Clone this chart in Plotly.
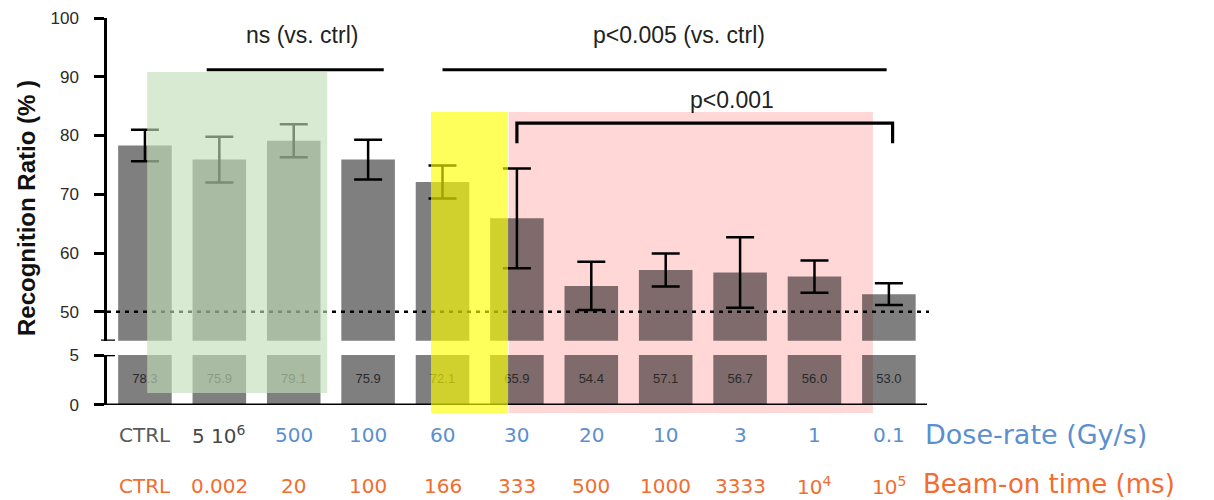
import plotly.graph_objects as go

# ---------------- data ----------------
dose_rate_labels = ["CTRL", "5 10<sup>6</sup>", "500", "100", "60", "30", "20", "10", "3", "1", "0.1"]
beam_on_labels = ["CTRL", "0.002", "20", "100", "166", "333", "500", "1000", "3333", "10<sup>4</sup>", "10<sup>5</sup>"]
recognition = [78.3, 75.9, 79.1, 75.9, 72.1, 65.9, 54.4, 57.1, 56.7, 56.0, 53.0]
error = [2.7, 3.9, 2.8, 3.4, 2.8, 8.5, 4.1, 2.8, 6.0, 2.75, 1.85]
upper_ticks = [50, 60, 70, 80, 90, 100]
lower_ticks = [0, 5]
chance_level = 50

dose_colors = ["#5a5a5a", "#474747"] + ["#5b8fd0"] * 9
beam_color = "#f26d2f"

# ---------------- layout geometry (screen pixels, page body has an 8px margin) ----------------
PAGE_OFF = 8
SCREEN_W, SCREEN_H = 1214, 500
W, H = SCREEN_W - PAGE_OFF, SCREEN_H - PAGE_OFF
PLOT_L, PLOT_R, PLOT_T, PLOT_B = 107, 935, 18, 405   # on-screen plot area
ML = PLOT_L - PAGE_OFF
MT = PLOT_T - PAGE_OFF
MR = W - (PLOT_R - PAGE_OFF)
MB = H - (PLOT_B - PAGE_OFF)
XR = [-0.51, 10.62]
UP_RANGE = [45.07, 100]
LOW_RANGE = [0, 5]
UP_DOM = [0.166, 1.0]
LOW_DOM = [0.0, 0.129]
PW = PLOT_R - PLOT_L
PH = PLOT_B - PLOT_T

x = list(range(len(recognition)))


def xp(v):
    return (v - XR[0]) / (XR[1] - XR[0])


def px_x(p):
    return (p - PLOT_L) / PW


def px_y(p):
    return (PLOT_B - p) / PH


BAR_COLOR = "rgba(0,0,0,0.5)"

fig = go.Figure()
fig.add_trace(go.Bar(
    x=x, y=recognition, width=0.72, marker=dict(color=BAR_COLOR, line=dict(width=0)),
    error_y=dict(type="data", array=error, visible=True, color="black", thickness=2.5, width=14),
    yaxis="y", xaxis="x", showlegend=False, hoverinfo="skip",
))
fig.add_trace(go.Bar(
    x=x, y=recognition, width=0.72, marker=dict(color=BAR_COLOR, line=dict(width=0)),
    yaxis="y2", xaxis="x", showlegend=False, hoverinfo="skip",
))
fig.add_trace(go.Scatter(
    x=x, y=[(LOW_RANGE[0] + LOW_RANGE[1]) / 2] * len(x), mode="text",
    text=[f"{v:.1f}" for v in recognition],
    textfont=dict(family="Liberation Sans, Arial", size=13, color="#2a2a2a"),
    yaxis="y2", xaxis="x", showlegend=False, hoverinfo="skip", cliponaxis=False,
))

shapes = []
# pink region (below traces -> darkens bars like multiply)
shapes.append(dict(type="rect", xref="paper", yref="paper",
                   x0=xp(4.89), x1=xp(9.785), y0=px_y(413), y1=px_y(112),
                   fillcolor="rgb(255,215,215)", line=dict(width=0), layer="below"))
# chance level dashed line
shapes.append(dict(type="line", xref="paper", yref="y", x0=0, x1=px_x(929),
                   y0=chance_level, y1=chance_level,
                   line=dict(color="black", width=2.4, dash="4px,5px"), layer="above"))
# bottom baseline
shapes.append(dict(type="line", xref="paper", yref="y2", x0=0, x1=px_x(927),
                   y0=0, y1=0, line=dict(color="black", width=3), layer="above"))
# axis break caps
shapes.append(dict(type="line", xref="paper", yref="y", x0=px_x(101), x1=px_x(115),
                   y0=UP_RANGE[0], y1=UP_RANGE[0], line=dict(color="black", width=2.5)))
shapes.append(dict(type="line", xref="paper", yref="y2", x0=px_x(99), x1=px_x(115),
                   y0=LOW_RANGE[1], y1=LOW_RANGE[1], line=dict(color="black", width=2.5)))
# significance lines
shapes.append(dict(type="line", xref="x", yref="y", x0=0.83, x1=3.21, y0=91.2, y1=91.2,
                   line=dict(color="black", width=3)))
shapes.append(dict(type="line", xref="x", yref="y", x0=4.0, x1=9.97, y0=91.2, y1=91.2,
                   line=dict(color="black", width=3)))
shapes.append(dict(type="path", xref="x", yref="y",
                   path="M 5,78.7 L 5,82.1 L 10.05,82.1 L 10.05,78.7",
                   line=dict(color="black", width=3.2)))
# green region (above)
shapes.append(dict(type="rect", xref="paper", yref="paper",
                   x0=xp(0.03), x1=xp(2.45), y0=px_y(393), y1=px_y(72),
                   fillcolor="rgba(195,222,185,0.63)", line=dict(width=0), layer="above"))
# yellow region (above)
shapes.append(dict(type="rect", xref="paper", yref="paper",
                   x0=xp(3.845), x1=xp(4.88), y0=px_y(413), y1=px_y(112),
                   fillcolor="rgba(255,255,0,0.64)", line=dict(width=0), layer="above"))

annotations = []
LABEL_FONT = "DejaVu Sans, Verdana, sans-serif"
for i in x:
    annotations.append(dict(x=i, y=px_y(435), xref="x", yref="paper", text=dose_rate_labels[i],
                            showarrow=False, xanchor="center", yanchor="middle",
                            font=dict(family=LABEL_FONT, size=20, color=dose_colors[i])))
    annotations.append(dict(x=i, y=px_y(486), xref="x", yref="paper", text=beam_on_labels[i],
                            showarrow=False, xanchor="center", yanchor="middle",
                            font=dict(family=LABEL_FONT, size=20, color=beam_color)))
annotations.append(dict(x=px_x(923), y=px_y(434), xref="paper", yref="paper", text="Dose-rate (Gy/s)",
                        showarrow=False, xanchor="left", yanchor="middle",
                        font=dict(family=LABEL_FONT, size=27, color="#5b8fd0")))
annotations.append(dict(x=px_x(921), y=px_y(484), xref="paper", yref="paper", text="Beam-on time (ms)",
                        showarrow=False, xanchor="left", yanchor="middle",
                        font=dict(family=LABEL_FONT, size=26, color=beam_color)))
TOP_FONT = dict(family="Liberation Sans, Arial", size=23, color="#222")
annotations.append(dict(x=2.11, y=97.1, xref="x", yref="y", text="ns (vs. ctrl)",
                        showarrow=False, font=TOP_FONT))
annotations.append(dict(x=7.18, y=97.1, xref="x", yref="y", text="p&lt;0.005 (vs. ctrl)",
                        showarrow=False, font=TOP_FONT))
annotations.append(dict(x=7.89, y=86.1, xref="x", yref="y", text="p&lt;0.001",
                        showarrow=False, font=TOP_FONT))
annotations.append(dict(x=px_x(27), y=px_y(208), xref="paper", yref="paper",
                        text="<b>Recognition Ratio (% )</b>", textangle=-90, showarrow=False,
                        xanchor="center", yanchor="middle",
                        font=dict(family="Liberation Sans, Arial", size=24, color="#111")))

TICK_FONT = dict(family="Liberation Sans, Arial", size=17, color="#2a2a2a")
fig.update_layout(
    width=W, height=H, margin=dict(l=ML, r=MR, t=MT, b=MB, autoexpand=False),
    paper_bgcolor="white", plot_bgcolor="rgba(0,0,0,0)",
    barmode="overlay", showlegend=False,
    xaxis=dict(range=XR, showline=False, showticklabels=False, ticks="", showgrid=False,
               zeroline=False, anchor="y2", fixedrange=True),
    yaxis=dict(domain=UP_DOM, range=UP_RANGE, tickvals=upper_ticks, showline=True,
               linecolor="black", linewidth=2.5, ticks="outside", ticklen=10, tickwidth=2.5,
               tickcolor="black", showgrid=False, zeroline=False, anchor="x",
               tickfont=TICK_FONT, ticklabelstandoff=12),
    yaxis2=dict(domain=LOW_DOM, range=LOW_RANGE, tickvals=lower_ticks, showline=True,
                linecolor="black", linewidth=2.5, ticks="outside", ticklen=10, tickwidth=2.5,
                tickcolor="black", showgrid=False, zeroline=False, anchor="x",
                tickfont=TICK_FONT, ticklabelstandoff=12),
    shapes=shapes, annotations=annotations,
)

fig.write_html("out.html")
